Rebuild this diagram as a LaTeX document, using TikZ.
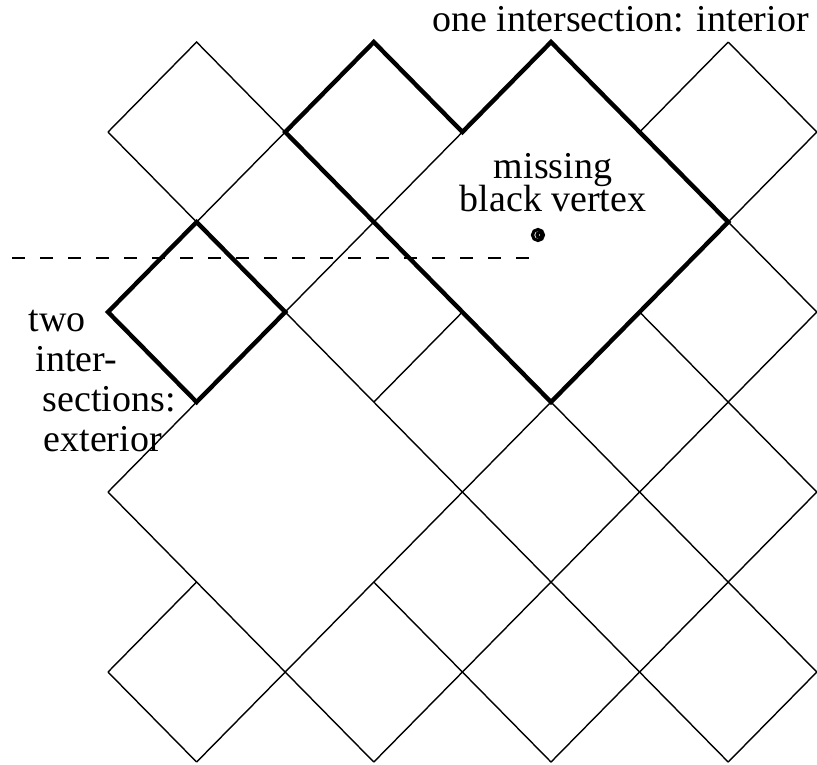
\documentclass[tikz,border=0pt]{standalone}
\usepackage{fontspec}
\setmainfont{Liberation Serif}
\usetikzlibrary{arrows.meta}

\begin{document}
\begin{tikzpicture}[x=0.886cm, y=-0.9cm, every node/.style={inner sep=0pt, font=\fontsize{10.8pt}{11.3pt}\selectfont},
                lattice/.style={line width=0.4pt},
                loopline/.style={line width=1.25pt, line join=miter},
                cutline/.style={line width=0.6pt, dash pattern=on 1.3mm off 1.5mm}]
                \useasboundingbox (-1.219,-0.467) rectangle (8.002,8.022);
                \foreach \i in {0,...,8}
                    \foreach \j in {0,...,8}
                        \coordinate (p\i\j) at (\i,\j);
                \draw[lattice] (p01) -- (p10) -- (p21);
                \draw[lattice] (p01) -- (p12) -- (p21);
                \draw[lattice] (p54) -- (p87);
                \draw[lattice] (p23) -- (p78);
                \draw[lattice] (p70) -- (p81);
                \draw[lattice] (p72) -- (p83);
                \draw[lattice] (p63) -- (p85);
                \draw[lattice] (p36) -- (p58);
                \draw[lattice] (p05) -- (p38);
                \draw[lattice] (p07) -- (p18);
                \draw[lattice] (p05) -- (p14);
                \draw[lattice] (p23) -- (p41);
                \draw[lattice] (p07) -- (p16);
                \draw[lattice] (p34) -- (p43);
                \draw[lattice] (p61) -- (p70);
                \draw[lattice] (p18) -- (p54);
                \draw[lattice] (p72) -- (p81);
                \draw[lattice] (p38) -- (p83);
                \draw[lattice] (p58) -- (p85);
                \draw[lattice] (p78) -- (p87);
                \draw[loopline] (p21) -- (p30) -- (p41) -- (p50) -- (p72) -- (p54) -- cycle;
                \draw[loopline] (p12) -- (p03) -- (p14) -- (p23) -- cycle;
                \coordinate (cut-w) at (-1.083,2.4);
                \coordinate (cut-e) at (4.91,2.4);
                \draw[cutline] (cut-w) -- (cut-e);
                \coordinate (hole) at (4.853,2.144);
                \draw[line width=0.9pt] (hole) circle[radius=0.55mm];
                \draw[line width=0.9pt] ([xshift=0.15mm]hole) circle[radius=0.25mm];
                \node[anchor=base](one) at (5.784,-0.122) {one intersection: interior};
                \node[anchor=south, align=center](miss) at (5.023,1.9) {missing\\[-1.8pt]black vertex};
                \node[anchor=south west, align=left](two) at (-0.903,4.556) {two\\\hspace*{0.7mm}inter-\\\hspace*{1.4mm}sections:\\\hspace*{1.5mm}exterior};
\end{tikzpicture}
\end{document}
